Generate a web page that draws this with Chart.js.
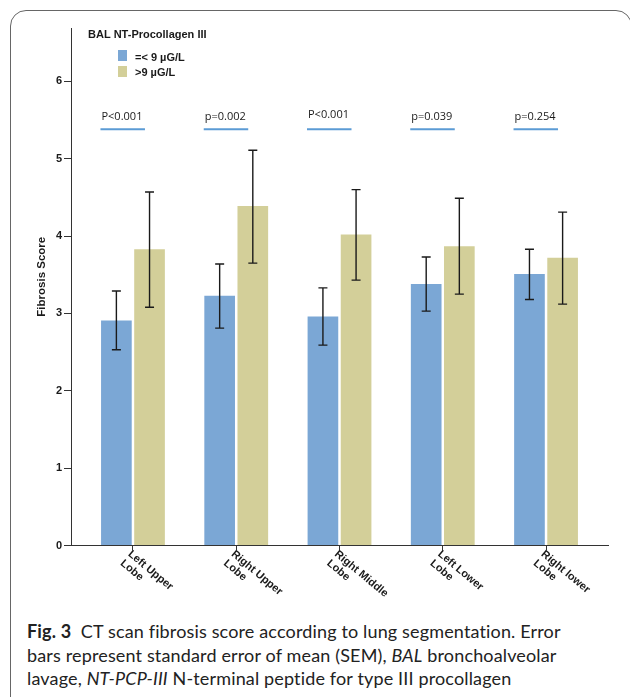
<!DOCTYPE html>
<html>
<head>
<meta charset="utf-8">
<script src="https://cdn.jsdelivr.net/npm/chart.js@4.4.0/dist/chart.umd.min.js"></script>
<style>
  html, body { margin: 0; padding: 0; background: #fff; width: 630px; height: 697px; overflow: hidden; }
  #frame { position: absolute; left: 10px; top: 10px; width: 622px; height: 720px; border: 1.5px solid #666; border-radius: 16px; box-sizing: border-box; }
  #wrap { position: absolute; left: 0; top: 0; width: 630px; height: 600px; }
  #caption { position: absolute; left: 27px; top: 620px; font-family: Lato, "Open Sans", sans-serif; font-size: 18px; letter-spacing: 0.15px; line-height: 23.5px; color: #222; white-space: nowrap; }
  #caption b { font-weight: 700; }
</style>
</head>
<body>
<div id="frame"></div>
<div id="wrap"><canvas id="chart" width="630" height="600"></canvas></div>
<div id="caption"><b>Fig. 3</b>&nbsp; CT scan fibrosis score according to lung segmentation. Error<br>bars represent standard error of mean (SEM), <i>BAL</i> bronchoalveolar<br>lavage, <i>NT-PCP-III</i> N-terminal peptide for type III procollagen</div>
<script>
// lung segments
var categories = [['Left Upper', 'Lobe'], ['Right Upper', 'Lobe'], ['Right Middle', 'Lobe'], ['Left Lower', 'Lobe'], ['Right lower', 'Lobe']];
var seriesNames = ['=< 9 \u00b5G/L', '>9 \u00b5G/L'];
var legendTitle = 'BAL NT-Procollagen III';

// mean fibrosis score and SEM ends
var lowMean = [2.91, 3.23, 2.96, 3.38, 3.51];
var lowErrTop = [3.29, 3.64, 3.33, 3.73, 3.83];
var lowErrBottom = [2.53, 2.81, 2.59, 3.03, 3.18];
var highMean = [3.83, 4.39, 4.02, 3.87, 3.72];
var highErrTop = [4.57, 5.11, 4.60, 4.49, 4.31];
var highErrBottom = [3.08, 3.65, 3.43, 3.25, 3.12];

var pValues = ['P<0.001', 'p=0.002', 'P<0.001', 'p=0.039', 'p=0.254'];
var yTicks = [0, 1, 2, 3, 4, 5, 6];

var blue = '#7ba7d5';
var tan = '#d3cf99';
var ink = '#1a1a1a';

function points(arr) {
    return arr.map(function (v, i) { return { x: i, y: v }; });
}

var errors = [
    { top: lowErrTop, bottom: lowErrBottom },
    { top: highErrTop, bottom: highErrBottom }
];

var extras = {
    id: 'extras',
    afterDatasetsDraw: function (chart) {
        var ctx = chart.ctx;
        var xs = chart.scales.x, ys = chart.scales.y;
        ctx.save();

        // error bars
        ctx.strokeStyle = ink;
        ctx.lineWidth = 1.4;
        chart.data.datasets.forEach(function (ds, d) {
            chart.getDatasetMeta(d).data.forEach(function (bar, i) {
                var t = ys.getPixelForValue(errors[d].top[i]);
                var b = ys.getPixelForValue(errors[d].bottom[i]);
                ctx.beginPath();
                ctx.moveTo(bar.x, t); ctx.lineTo(bar.x, b);
                ctx.moveTo(bar.x - 4.5, t); ctx.lineTo(bar.x + 4.5, t);
                ctx.moveTo(bar.x - 4.5, b); ctx.lineTo(bar.x + 4.5, b);
                ctx.stroke();
            });
        });

        // p values above each group
        var lineY = ys.getPixelForValue(5.38);
        ctx.font = '11px "Open Sans"';
        ctx.fillStyle = ink;
        ctx.textBaseline = 'middle';
        ctx.textAlign = 'left';
        pValues.forEach(function (p, i) {
            var cx = xs.getPixelForValue(i);
            ctx.strokeStyle = '#5b9bd5';
            ctx.lineWidth = 2;
            ctx.beginPath();
            ctx.moveTo(cx - 32.5, lineY); ctx.lineTo(cx + 12, lineY);
            ctx.stroke();
            ctx.fillText(p, cx - 31.5, lineY - (i === 2 ? 14 : 12));
        });

        // rotated category labels
        ctx.font = 'bold 11px "Liberation Sans", Arial';
        ctx.textBaseline = 'top';
        categories.forEach(function (lines, i) {
            var cx = xs.getPixelForValue(i);
            ctx.save();
            ctx.translate(cx, xs.top + 3);
            ctx.rotate(40 * Math.PI / 180);
            lines.forEach(function (s, k) { ctx.fillText(s, 0, k * 12); });
            ctx.restore();
        });

        // legend
        ctx.textBaseline = 'middle';
        ctx.fillText(legendTitle, 88, 35);
        ctx.fillStyle = blue;
        ctx.fillRect(118, 50, 9, 11);
        ctx.fillStyle = tan;
        ctx.fillRect(118, 66, 9, 11);
        ctx.fillStyle = ink;
        ctx.fillText(seriesNames[0], 135, 57.5);
        ctx.fillText(seriesNames[1], 135, 72.5);

        // y axis title
        ctx.save();
        ctx.translate(42, (ys.top + ys.bottom) / 2 - 10);
        ctx.rotate(-Math.PI / 2);
        ctx.textAlign = 'center';
        ctx.font = 'bold 11.5px "Liberation Sans", Arial';
        ctx.fillText('Fibrosis Score', 0, 0);
        ctx.restore();

        ctx.restore();
    }
};

document.addEventListener('DOMContentLoaded', function () {
    var ctx = document.getElementById('chart').getContext('2d');
    new Chart(ctx, {
        type: 'bar',
        data: {
            datasets: [{
                label: seriesNames[0],
                data: points(lowMean),
                backgroundColor: blue,
                borderWidth: 0
            }, {
                label: seriesNames[1],
                data: points(highMean),
                backgroundColor: tan,
                borderWidth: 0
            }]
        },
        options: {
            responsive: false,
            animation: false,
            devicePixelRatio: 1,
            categoryPercentage: 0.642,
            barPercentage: 0.925,
            layout: { padding: { top: 28, right: 22, left: 0, bottom: 0 } },
            plugins: {
                legend: { display: false },
                tooltip: { enabled: false }
            },
            scales: {
                x: {
                    type: 'linear',
                    min: -0.6,
                    max: 4.6,
                    offset: false,
                    afterBuildTicks: function (s) {
                        s.ticks = categories.map(function (c, i) { return { value: i }; });
                    },
                    afterFit: function (s) { s.height = 54.5; },
                    ticks: { display: false },
                    grid: { offset: false, drawOnChartArea: false, drawTicks: true, tickLength: 5, color: '#333' },
                    border: { color: '#333', width: 1 }
                },
                y: {
                    min: 0,
                    max: 6.69,
                    afterBuildTicks: function (s) {
                        s.ticks = yTicks.map(function (v) { return { value: v }; });
                    },
                    afterFit: function (s) { s.width = 71; },
                    ticks: {
                        color: ink,
                        padding: 2,
                        font: { family: '"Liberation Sans", Arial', size: 11, weight: 'bold' }
                    },
                    grid: { drawOnChartArea: false, drawTicks: true, tickLength: 7, color: '#333' },
                    border: { color: '#333', width: 1 }
                }
            }
        },
        plugins: [extras]
    });
});
</script>
</body>
</html>
